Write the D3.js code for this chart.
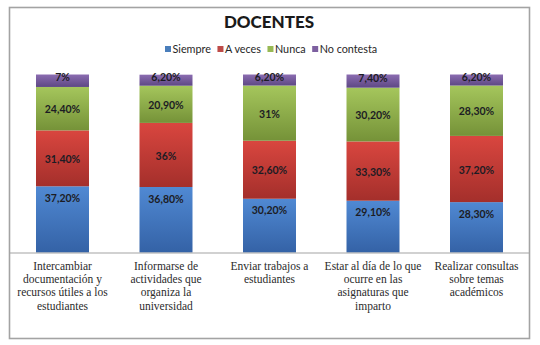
<!DOCTYPE html>
<html>
<head>
<meta charset="utf-8">
<script src="https://cdn.jsdelivr.net/npm/d3@7"></script>
<style>
  body { margin: 0; background: #fff; }
  svg { display: block; }
</style>
</head>
<body>
<div id="chart"></div>
<script>
const categories = [
  ['Intercambiar', 'documentación y', 'recursos útiles a los', 'estudiantes'],
  ['Informarse de', 'actividades que', 'organiza la', 'universidad'],
  ['Enviar trabajos a', 'estudiantes'],
  ['Estar al día de lo que', 'ocurre en las', 'asignaturas que', 'imparto'],
  ['Realizar consultas', 'sobre temas', 'académicos']
];
const seriesNames = ['Siempre', 'A veces', 'Nunca', 'No contesta'];
const siempre = [37.2, 36.8, 30.2, 29.1, 28.3];
const aVeces = [31.4, 36, 32.6, 33.3, 37.2];
const nunca = [24.4, 20.9, 31, 30.2, 28.3];
const noContesta = [7, 6.2, 6.2, 7.4, 6.2];

const width = 540;
const height = 345;

// colour pairs: top of gradient, bottom of gradient, legend swatch
const colors = {
  'Siempre': ['#5089d3', '#3462a6', '#4a7ebb'],
  'A veces': ['#d9463f', '#a42f2b', '#be4b48'],
  'Nunca': ['#a5c65c', '#759238', '#98b954'],
  'No contesta': ['#8b6cb1', '#5e4884', '#7d60a0']
};

const rows = categories.map((c, i) => ({
  idx: i,
  'Siempre': siempre[i],
  'A veces': aVeces[i],
  'Nunca': nunca[i],
  'No contesta': noContesta[i]
}));

const fmt = v => String(v).replace('.', ',').replace(/,(\d)$/, ',$10') + '%';

const svg = d3.select('#chart')
  .append('svg')
  .attr('width', width)
  .attr('height', height);

const defs = svg.append('defs');
seriesNames.forEach((s, i) => {
  const g = defs.append('linearGradient')
    .attr('id', 'grad' + i)
    .attr('x1', 0).attr('y1', 0).attr('x2', 0).attr('y2', 1);
  g.append('stop').attr('offset', '0%').attr('stop-color', colors[s][0]);
  g.append('stop').attr('offset', '100%').attr('stop-color', colors[s][1]);
});

// chart frame
svg.append('rect')
  .attr('x', 9.5).attr('y', 7.5)
  .attr('width', 520).attr('height', 331)
  .attr('fill', '#fff')
  .attr('stroke', '#a3a3a3')
  .attr('stroke-width', 1.6);

svg.append('text')
  .attr('x', 269)
  .attr('y', 28)
  .attr('text-anchor', 'middle')
  .style('font-family', 'Lato, "Open Sans", sans-serif')
  .style('font-weight', '900')
  .style('font-size', '17px')
  .style('fill', '#1a1a1a')
  .text('DOCENTES');

// legend
const legend = svg.append('g').attr('transform', 'translate(165,49)');
let lx = 0;
seriesNames.forEach(s => {
  const item = legend.append('g').attr('transform', `translate(${lx},0)`);
  item.append('rect')
    .attr('x', 0).attr('y', -3)
    .attr('width', 6).attr('height', 6)
    .attr('fill', colors[s][2]);
  const t = item.append('text')
    .attr('x', 7.5)
    .attr('y', 4)
    .style('font-family', 'Lato, "Open Sans", sans-serif')
    .style('font-size', '10.8px')
    .style('fill', '#262626')
    .text(s);
  lx += 7.5 + t.node().getComputedTextLength() + 6.5;
});

const x = d3.scaleBand()
  .domain(categories.map((c, i) => i))
  .range([10.75, 528.25])
  .paddingInner(0.488)
  .paddingOuter(0.244);

const y = d3.scaleLinear()
  .domain([0, 100])
  .range([252.5, 74.5]);

const stack = d3.stack().keys(seriesNames);
const stacked = stack(rows);

const layers = svg.append('g')
  .selectAll('g')
  .data(stacked)
  .enter().append('g')
  .attr('fill', (d, i) => `url(#grad${i})`);

layers.selectAll('rect')
  .data(d => d)
  .enter().append('rect')
  .attr('x', d => x(d.data.idx))
  .attr('y', d => y(d[1]))
  .attr('width', x.bandwidth())
  .attr('height', d => y(d[0]) - y(d[1]));

// data labels
const labels = svg.append('g')
  .style('font-family', 'Lato, "Open Sans", sans-serif')
  .style('font-weight', 'bold')
  .style('font-size', '10.5px')
  .style('fill', '#1c1c24');

stacked.forEach(layer => {
  labels.selectAll(null)
    .data(layer)
    .enter().append('text')
    .attr('x', d => x(d.data.idx) + x.bandwidth() / 2)
    .attr('y', d => {
      if (layer.key === 'Siempre') return y(d[1]) + 12;
      if (layer.key === 'No contesta') return (y(d[0]) + y(d[1])) / 2 - 3;
      return (y(d[0]) + y(d[1])) / 2 + 1;
    })
    .attr('dy', '0.35em')
    .attr('text-anchor', 'middle')
    .text(d => fmt(d.data[layer.key]));
});

// category axis
svg.append('line')
  .attr('x1', 9.5).attr('x2', 529.5)
  .attr('y1', 253).attr('y2', 253)
  .attr('stroke', '#a3a3a3')
  .attr('stroke-width', 1.2);

const catLabels = svg.append('g');

categories.forEach((lines, i) => {
  const t = catLabels.append('text')
    .attr('font-family', 'Liberation Serif, serif')
    .attr('font-size', 11.5)
    .attr('fill', '#2b2b2b')
    .attr('x', x(i) + x.bandwidth() / 2)
    .attr('y', 270)
    .attr('text-anchor', 'middle');
  lines.forEach((ln, j) => {
    t.append('tspan')
      .attr('x', x(i) + x.bandwidth() / 2)
      .attr('dy', j === 0 ? 0 : 13.2)
      .text(ln);
  });
});
</script>
</body>
</html>
